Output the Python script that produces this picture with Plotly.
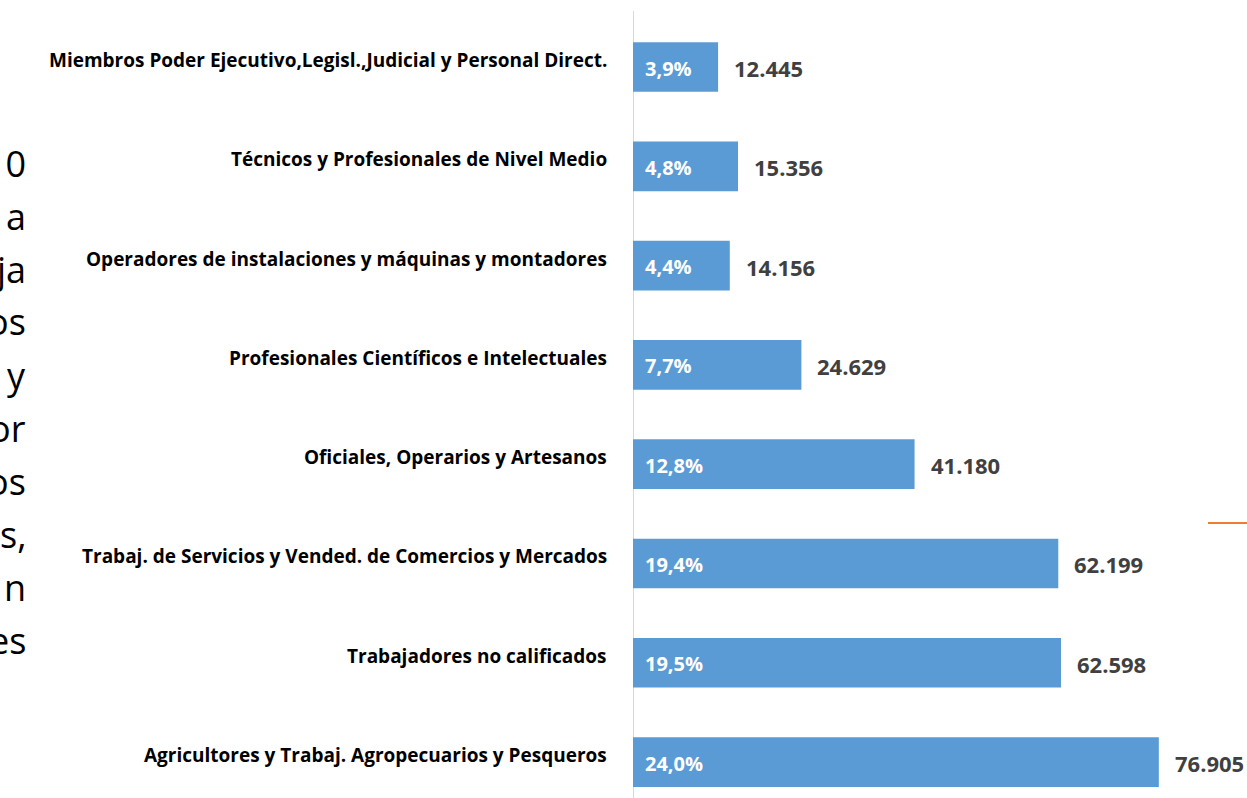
import plotly.graph_objects as go

# Data (top-to-bottom as shown in the chart)
categories = [
    "Miembros Poder Ejecutivo,Legisl.,Judicial y Personal Direct.",
    "Técnicos y Profesionales de Nivel Medio",
    "Operadores de instalaciones y máquinas y montadores",
    "Profesionales Científicos e Intelectuales",
    "Oficiales, Operarios y Artesanos",
    "Trabaj. de Servicios y Vended. de Comercios y Mercados",
    "Trabajadores no calificados",
    "Agricultores y Trabaj. Agropecuarios y Pesqueros",
]
counts = [12445, 15356, 14156, 24629, 41180, 62199, 62598, 76905]
percents = [3.9, 4.8, 4.4, 7.7, 12.8, 19.4, 19.5, 24.0]

# Partially visible text fragments at the left edge
side_fragments = ["10", "a", "ja", "os", "y", "or", "os", "s,", "n", "es"]

# plotting order: bottom first
cats_b = categories[::-1]
counts_b = counts[::-1]
pct_b = percents[::-1]

BAR = "#5B9BD5"
FONT = "Open Sans"
W, H = 1247, 798
L = 633

fig = go.Figure()
fig.add_trace(go.Bar(
    y=cats_b, x=counts_b, orientation="h",
    marker=dict(color=BAR, line=dict(width=0)),
    width=0.5, hoverinfo="skip", showlegend=False,
))

ann = []
for c, v, p in zip(cats_b, counts_b, pct_b):
    ann.append(dict(x=0, y=c, xref="x", yref="y", text=c, showarrow=False,
                    xanchor="right", yanchor="middle", xshift=-24, yshift=7,
                    font=dict(family=FONT, size=19, color="#000000", weight="bold")))
    ann.append(dict(x=0, y=c, xref="x", yref="y",
                    text=f"{p:.1f}%".replace(".", ","), showarrow=False,
                    xanchor="left", yanchor="middle", xshift=10, yshift=-1,
                    font=dict(family=FONT, size=20, color="#FFFFFF", weight="bold")))
    ann.append(dict(x=v, y=c, xref="x", yref="y",
                    text=f"{v:,}".replace(",", "."), showarrow=False,
                    xanchor="left", yanchor="middle", xshift=14, yshift=-1,
                    font=dict(family=FONT, size=22, color="#404040", weight="bold")))

plot_w = W - L
for i, t in enumerate(side_fragments):
    ypx = 163 + 53 * i
    ann.append(dict(x=(28 - L) / plot_w, y=1 - ypx / H, xref="paper", yref="paper",
                    text=t, showarrow=False, xanchor="right", yanchor="middle",
                    font=dict(family=FONT, size=36, color="#000000")))

shapes = [
    dict(type="line", xref="x", yref="paper", x0=0, x1=0, y0=0, y1=1 - 11 / H,
         line=dict(color="#D9D9D9", width=2), layer="below"),
    dict(type="line", xref="paper", yref="paper", x0=(1208 - L) / plot_w, x1=1.0,
         y0=1 - 523 / H, y1=1 - 523 / H, line=dict(color="#ED7D31", width=2)),
]

fig.update_layout(
    width=W, height=H,
    margin=dict(l=L, r=0, t=0, b=0),
    plot_bgcolor="white", paper_bgcolor="white",
    annotations=ann, shapes=shapes,
    xaxis=dict(range=[0, 89800], visible=False, showgrid=False, zeroline=False),
    yaxis=dict(range=[-0.362, 7.675], showticklabels=False, showgrid=False,
               zeroline=False, showline=False, ticks="",
               categoryorder="array", categoryarray=cats_b),
    bargap=0.5,
)

fig.write_html("out.html", config={"displayModeBar": False},
               post_script="document.body.style.margin='0';document.body.style.overflow='hidden';")
